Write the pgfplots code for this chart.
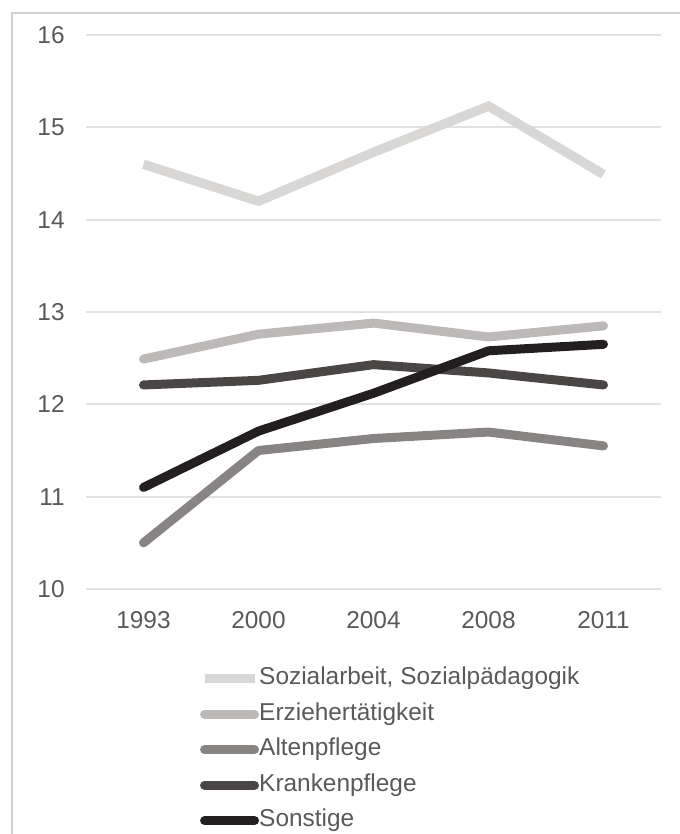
\documentclass[border=0pt]{standalone}
\usepackage{pgfplots}
\pgfplotsset{compat=1.18}
\usepackage{fontspec}
\setmainfont{Liberation Sans}
\definecolor{soz}{HTML}{D8D7D6}
\definecolor{erz}{HTML}{BCB9B8}
\definecolor{alt}{HTML}{888483}
\definecolor{kra}{HTML}{4A4646}
\definecolor{son}{HTML}{231F20}
\definecolor{txt}{HTML}{595959}
\definecolor{grd}{HTML}{E2E2E2}
\definecolor{frm}{HTML}{D0D0D0}
\newcommand{\fs}{\fontsize{12.2bp}{14bp}\selectfont}
\begin{document}
\begin{tikzpicture}
\path[use as bounding box] (0bp,0bp) rectangle (340bp,-417bp);
\draw[frm, line width=1bp] (6bp,-417bp) -- (6bp,-6.5bp) -- (340bp,-6.5bp);
\begin{axis}[
  at={(43bp,-294.5bp)}, anchor=south west,
  scale only axis, width=287.5bp, height=277bp,
  xmin=-0.5, xmax=4.5, ymin=10, ymax=16,
  xtick={0,1,2,3,4}, xticklabels={1993,2000,2004,2008,2011},
  ytick={10,11,12,13,14,15,16},
  axis line style={draw=none},
  major tick length=0pt,
  ymajorgrids, grid style={grd, line width=1bp},
  tick label style={font=\fs, text=txt, inner sep=0pt},
  /pgf/number format/assume math mode=true,
  xticklabel style={anchor=base, yshift=-19.75bp},
  yticklabel style={anchor=east, xshift=-10.5bp},
  legend style={draw=none, fill=none, font=\fs, text=txt,
    at={(axis description cs:0.198,-0.142)}, anchor=north west,
    inner sep=0pt, outer sep=0pt, row sep=6.65bp,
    nodes={inner xsep=0pt, inner ysep=0pt, text height=8.6bp, text depth=2.5bp}},
  legend cell align=left,
  legend image code/.code={\draw[#1] (0bp,0bp) -- (25bp,0bp);},
]
\addplot[soz, line width=4.7bp, line cap=butt, line join=miter] coordinates {(0,14.60) (1,14.20) (2,14.73) (3,15.23) (4,14.49)};
\addlegendentry{Sozialarbeit, Sozialpädagogik}
\addplot[erz, line width=4.5bp, line cap=round, line join=round] coordinates {(0,12.49) (1,12.76) (2,12.88) (3,12.73) (4,12.85)};
\addlegendentry{Erziehertätigkeit}
\addplot[alt, line width=4.5bp, line cap=round, line join=round] coordinates {(0,10.50) (1,11.50) (2,11.63) (3,11.70) (4,11.55)};
\addlegendentry{Altenpflege}
\addplot[kra, line width=4.5bp, line cap=round, line join=round] coordinates {(0,12.21) (1,12.26) (2,12.43) (3,12.34) (4,12.21)};
\addlegendentry{Krankenpflege}
\addplot[son, line width=4.5bp, line cap=round, line join=round] coordinates {(0,11.10) (1,11.71) (2,12.12) (3,12.58) (4,12.65)};
\addlegendentry{Sonstige}
\end{axis}
\end{tikzpicture}
\end{document}
